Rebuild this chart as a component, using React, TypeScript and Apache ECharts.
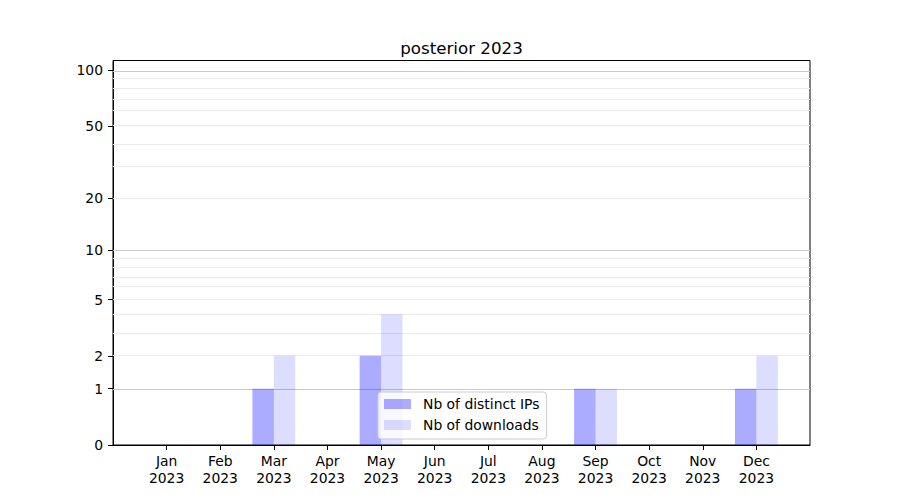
import React, { useEffect, useRef } from "react";
import * as echarts from "echarts";

const months = ["Jan", "Feb", "Mar", "Apr", "May", "Jun", "Jul", "Aug", "Sep", "Oct", "Nov", "Dec"];
const year = "2023";
const distinctIPs = [0, 0, 1, 0, 2, 0, 0, 0, 1, 0, 0, 1];
const downloads = [0, 0, 2, 0, 4, 0, 0, 0, 1, 0, 0, 2];
const yTickValues = [0, 1, 2, 5, 10, 20, 50, 100];
const majorGrid = [1, 10, 100];
const minorGrid = [2, 3, 4, 5, 6, 7, 8, 9, 20, 30, 40, 50, 60, 70, 80, 90];
const yTopValue = 113;
const titleText = "posterior 2023";
const seriesNames = ["Nb of distinct IPs", "Nb of downloads"];

const toScale = (v: number) => Math.log10(1 + v);
const fromScale = (s: number) => Math.round(Math.pow(10, s) - 1);

const FONT = "DejaVu Sans";

export default function App() {
  const ref = useRef<HTMLDivElement>(null);
  useEffect(() => {
    if (!ref.current) return;
    const chart = echarts.init(ref.current, undefined, { renderer: "svg" });
    const cats = ["", ...months.map((m) => `${m}\n${year}`), ""];
    const pad = (arr: number[]) => [null, ...arr.map(toScale), null];
    const gridLines = [
      ...minorGrid.map((v) => ({ yAxis: toScale(v), lineStyle: { color: "#ebebeb", width: 1, type: "solid" } })),
      ...majorGrid.map((v) => ({ yAxis: toScale(v), lineStyle: { color: "#c8c8c8", width: 1, type: "solid" } })),
    ];
    chart.setOption({
      animation: false,
      title: {
        text: titleText,
        left: 456.5,
        textAlign: "center",
        top: 34,
        textStyle: { fontFamily: FONT, fontSize: 16.7, fontWeight: "normal", color: "#000" },
      },
      grid: {
        left: 113,
        right: 90,
        top: 60.5,
        bottom: 55,
        show: true,
        borderColor: "#000",
        borderWidth: 1,
        backgroundColor: "transparent",
      },
      legend: {
        data: seriesNames,
        orient: "vertical",
        left: 378,
        top: 392,
        itemWidth: 27,
        itemHeight: 10,
        itemGap: 7,
        icon: "rect",
        padding: [5, 7, 7, 6],
        backgroundColor: "rgba(255,255,255,0.8)",
        borderColor: "#cccccc",
        borderWidth: 1,
        borderRadius: 3,
        textStyle: { fontFamily: FONT, fontSize: 13.9, color: "#000", padding: [0, 0, 0, 7] },
      },
      xAxis: {
        type: "category",
        data: cats,
        boundaryGap: false,
        axisLine: { show: true, lineStyle: { color: "#000", width: 1 } },
        axisTick: {
          show: true,
          length: 5,
          interval: (index: number) => index > 0 && index < cats.length - 1,
          lineStyle: { color: "#000", width: 1 },
        },
        axisLabel: {
          interval: 0,
          margin: 8,
          fontFamily: FONT,
          fontSize: 13.9,
          lineHeight: 16.5,
          color: "#000",
        },
        splitLine: { show: false },
      },
      yAxis: {
        type: "value",
        min: 0,
        max: toScale(yTopValue),
        axisLine: { show: true, lineStyle: { color: "#000", width: 1 } },
        axisTick: {
          show: true,
          length: 5,
          customValues: yTickValues.map(toScale),
          lineStyle: { color: "#000", width: 1 },
        },
        axisLabel: {
          customValues: yTickValues.map(toScale),
          formatter: (v: number) => String(fromScale(v)),
          margin: 10,
          fontFamily: FONT,
          fontSize: 13.9,
          color: "#000",
        },
        splitLine: { show: false },
      },
      series: [
        {
          name: seriesNames[0],
          type: "bar",
          data: pad(distinctIPs),
          barWidth: "40%",
          barGap: "0%",
          itemStyle: { color: "rgba(0,0,255,0.33)" },
          markLine: {
            silent: true,
            symbol: "none",
            label: { show: false },
            z: 1,
            data: gridLines,
          },
        },
        {
          name: seriesNames[1],
          type: "bar",
          data: pad(downloads),
          barWidth: "40%",
          barGap: "0%",
          itemStyle: { color: "rgba(0,0,255,0.135)" },
        },
      ],
    });
    return () => chart.dispose();
  }, []);
  return <div ref={ref} style={{ position: "absolute", left: 0, top: 0, width: 900, height: 500 }} />;
}
